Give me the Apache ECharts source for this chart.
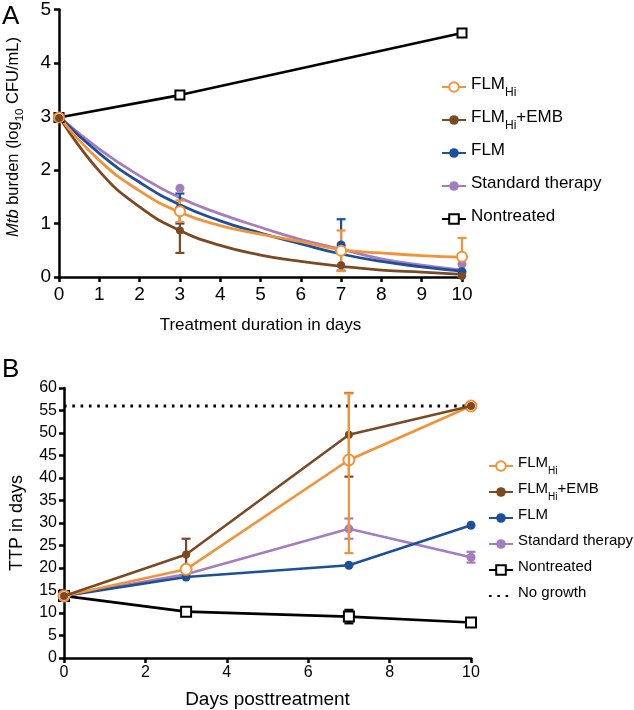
<!DOCTYPE html>
<html>
<head>
<meta charset="utf-8">
<title>Mtb burden / TTP</title>
<script src="https://cdn.jsdelivr.net/npm/echarts@6/dist/echarts.min.js"></script>
<style>
  html, body { margin: 0; padding: 0; background: #fff; }
  #chart { width: 634px; height: 710px; }
</style>
</head>
<body>
<div id="chart"></div>
<script>
// ---- panel A: Mtb burden (log10 CFU/mL) ----
var daysA = [0, 3, 7, 10];
var fitDays = [0, 1, 2, 3, 4, 5, 6, 7, 8, 9, 10];
// fitted decay curves
var fitFLMHi = [3.0, 2.18, 1.61, 1.21, 0.96, 0.80, 0.66, 0.51, 0.45, 0.40, 0.37];
var fitEMB   = [3.0, 1.98, 1.31, 0.87, 0.59, 0.41, 0.29, 0.20, 0.13, 0.09, 0.05];
var fitFLM   = [3.0, 2.31, 1.77, 1.35, 1.05, 0.82, 0.62, 0.43, 0.29, 0.19, 0.11];
var fitStd   = [3.0, 2.39, 1.89, 1.48, 1.18, 0.93, 0.70, 0.52, 0.34, 0.22, 0.13];
// measured points
var cfuFLMHi = [2.98, 1.23, 0.49, 0.38];
var cfuEMB   = [2.97, 0.87, 0.22, 0.02];
var cfuFLM   = [2.97, 1.28, 0.60, 0.10];
var cfuStd   = [2.97, 1.66, 0.55, 0.24];
var daysNonA = [0, 3, 10];
var cfuNon   = [2.98, 3.40, 4.56];
// error bars [day, low, high]
var errA_FLMHi = [[3, 1.03, 1.43], [7, 0.11, 0.87], [10, 0.02, 0.73]];
var errA_EMB   = [[3, 0.45, 1.29]];
var errA_FLM   = [[3, 1.00, 1.56], [7, 0.12, 1.08]];

// ---- panel B: TTP in days ----
var daysB = [0, 3, 7, 10];
var ttpFLMHi = [13.8, 19.7, 44.0, 56.0];
var ttpEMB   = [13.8, 23.0, 49.6, 56.0];
var ttpFLM   = [13.8, 18.0, 20.6, 29.5];
var ttpStd   = [13.8, 18.6, 28.7, 22.4];
var ttpNon   = [13.8, 10.3, 9.2, 7.9];
var noGrowth = 56;
var errB_FLMHi = [[7, 23.3, 58.8]];
var errB_EMB   = [[3, 19.5, 26.5], [7, 40.3, 58.9]];
var errB_Std   = [[7, 26.5, 31.0], [10, 21.2, 23.6]];
var errB_Non   = [[7, 7.7, 10.7]];

var C = {
  hi: '#f39237',
  emb: '#7b4a22',
  flm: '#1c4f9c',
  std: '#a47dbf',
  non: '#000'
};
var FONT = 'Liberation Sans, Arial, Helvetica, sans-serif';

function pairs(xs, ys) {
  return xs.map(function (x, i) { return [x, ys[i]]; });
}

// vertical error bar with caps
function errorBar(params, api) {
  var x = api.value(0);
  var lo = api.coord([x, api.value(1)]);
  var hi = api.coord([x, api.value(2)]);
  var w = 4.5;
  var st = { stroke: api.visual('color'), lineWidth: 2.2 };
  return {
    type: 'group',
    children: [
      { type: 'line', shape: { x1: lo[0], y1: lo[1], x2: hi[0], y2: hi[1] }, style: st },
      { type: 'line', shape: { x1: lo[0] - w, y1: lo[1], x2: lo[0] + w, y2: lo[1] }, style: st },
      { type: 'line', shape: { x1: hi[0] - w, y1: hi[1], x2: hi[0] + w, y2: hi[1] }, style: st }
    ]
  };
}

function errSeries(name, data, color, idx, z) {
  return {
    name: name, type: 'custom', xAxisIndex: idx, yAxisIndex: idx,
    data: data, encode: { x: 0, y: [1, 2] },
    itemStyle: { color: color }, renderItem: errorBar, z: z || 3, silent: true
  };
}

function fitSeries(name, ys, color, sym) {
  return {
    name: name, type: 'line', xAxisIndex: 0, yAxisIndex: 0,
    data: pairs(fitDays, ys), smooth: true,
    symbol: sym, showSymbol: false, symbolSize: 10,
    itemStyle: { color: color, borderWidth: 2.5 },
    lineStyle: { color: color, width: 2.8 }, z: 2, silent: true
  };
}

function dotSeries(name, xs, ys, color, sym, size, idx) {
  return {
    name: name, type: 'scatter', xAxisIndex: idx, yAxisIndex: idx,
    data: pairs(xs, ys), symbol: sym, symbolSize: size,
    itemStyle: { color: color, borderWidth: 2.5, opacity: 1 }, z: 4, silent: true
  };
}

function lineSeries(name, xs, ys, color, sym, size, idx, z) {
  return {
    name: name, type: 'line', xAxisIndex: idx, yAxisIndex: idx,
    data: pairs(xs, ys), symbol: sym, symbolSize: size, showSymbol: true,
    itemStyle: { color: color, borderWidth: 2.5 },
    lineStyle: { color: color, width: 2.6 }, z: z || 4, silent: true
  };
}

var axisCommon = {
  type: 'value',
  axisLine: { show: true, onZero: false, lineStyle: { color: '#000', width: 2.5 } },
  axisTick: { show: true, length: 5, lineStyle: { color: '#000', width: 2.5 } },
  splitLine: { show: false },
  axisLabel: { color: '#000', fontFamily: FONT }
};
function ax(extra) {
  return echarts.util.merge(echarts.util.clone(axisCommon), extra, true);
}

// every entry gets a (maybe blank) subscript token so all rows are equally tall
function legendFmt(name) {
  if (name.indexOf('_Hi') < 0) return '{n|' + name + '}{s| }';
  var p = name.split('_Hi');
  return '{n|' + p[0] + '}{s|Hi}' + (p[1] ? '{n|' + p[1] + '}' : '');
}
function legendRich(fs) {
  return {
    n: { fontSize: fs, fontFamily: FONT, color: '#000', lineHeight: 22, verticalAlign: 'top' },
    s: { fontSize: fs - 5, fontFamily: FONT, color: '#000', lineHeight: 12, verticalAlign: 'top', padding: [11, 0, 0, 0] }
  };
}

var myChart = echarts.init(document.getElementById('chart'), null, { renderer: 'canvas' });

var option = {
  backgroundColor: '#fff',
  animation: false,
  grid: [
    { left: 59, right: 172, top: 8, bottom: 433 },
    { left: 63, right: 163, top: 388, bottom: 51 }
  ],
  xAxis: [
    ax({ gridIndex: 0, min: 0, max: 10, interval: 1,
      name: 'Treatment duration in days', nameLocation: 'middle', nameGap: 40,
      nameTextStyle: { fontSize: 17, color: '#000', fontFamily: FONT },
      axisLabel: { fontSize: 19, margin: 8 } }),
    ax({ gridIndex: 1, min: 0, max: 10, interval: 2,
      name: 'Days posttreatment', nameLocation: 'middle', nameGap: 32,
      nameTextStyle: { fontSize: 19, color: '#000', fontFamily: FONT },
      axisLabel: { fontSize: 16, margin: 7 } })
  ],
  yAxis: [
    ax({ gridIndex: 0, min: 0, max: 5, interval: 1,
      axisLabel: { fontSize: 19, margin: 8 } }),
    ax({ gridIndex: 1, min: 0, max: 60, interval: 5,
      name: 'TTP in days', nameLocation: 'middle', nameGap: 38,
      nameTextStyle: { fontSize: 18, color: '#000', fontFamily: FONT },
      axisLabel: { fontSize: 16, margin: 7 } })
  ],
  legend: [
    {
      orient: 'vertical', left: 436, top: 71, itemWidth: 24, itemHeight: 12, itemGap: 10,
      data: ['FLM_Hi', 'FLM_Hi+EMB', 'FLM', 'Standard therapy', 'Nontreated'],
      formatter: legendFmt,
      textStyle: { fontSize: 17, fontFamily: FONT, color: '#000', rich: legendRich(17) },
      selectedMode: false
    },
    {
      orient: 'vertical', left: 483, top: 450, itemWidth: 24, itemHeight: 12, itemGap: 5,
      data: ['FLM_Hi ', 'FLM_Hi+EMB ', 'FLM ', 'Standard therapy ', 'Nontreated ',
        { name: 'No growth', itemStyle: { opacity: 0 } }],
      formatter: function (n) { return legendFmt(n.trim()); },
      textStyle: { fontSize: 15, fontFamily: FONT, color: '#000', rich: legendRich(15) },
      selectedMode: false
    }
  ],
  graphic: [
    { type: 'text', left: 2, top: 4, style: { text: 'A', fontSize: 26, fontFamily: FONT, fill: '#000' } },
    { type: 'text', left: 2, top: 357, style: { text: 'B', fontSize: 26, fontFamily: FONT, fill: '#000' } },
    {
      type: 'text', x: 14, y: 137, rotation: Math.PI / 2,
      style: {
        text: '{i|Mtb}{n| burden (log}{s|10}{n| CFU/mL)}',
        align: 'center', verticalAlign: 'middle',
        rich: {
          i: { fontSize: 16.5, fontFamily: FONT, fontStyle: 'italic', fill: '#000', lineHeight: 19, verticalAlign: 'top' },
          n: { fontSize: 16.5, fontFamily: FONT, fill: '#000', lineHeight: 19, verticalAlign: 'top' },
          s: { fontSize: 11.5, fontFamily: FONT, fill: '#000', lineHeight: 12, verticalAlign: 'top', padding: [9, 0, 0, 0] }
        }
      }
    }
  ],
  series: [
    // panel A
    lineSeries('Nontreated', daysNonA, cfuNon, C.non, 'emptyRect', 9, 0),
    fitSeries('Standard therapy', fitStd, C.std, 'circle'),
    fitSeries('FLM', fitFLM, C.flm, 'circle'),
    fitSeries('FLM_Hi+EMB', fitEMB, C.emb, 'circle'),
    fitSeries('FLM_Hi', fitFLMHi, C.hi, 'emptyCircle'),
    errSeries('FLM', errA_FLM, C.flm, 0),
    errSeries('FLM_Hi+EMB', errA_EMB, C.emb, 0),
    errSeries('FLM_Hi', errA_FLMHi, C.hi, 0),
    dotSeries('Standard therapy', daysA, cfuStd, C.std, 'circle', 9, 0),
    dotSeries('FLM', daysA, cfuFLM, C.flm, 'circle', 9, 0),
    dotSeries('FLM_Hi', daysA, cfuFLMHi, C.hi, 'emptyCircle', 10, 0),
    dotSeries('FLM_Hi+EMB', daysA, cfuEMB, C.emb, 'circle', 8, 0),

    // panel B (line series first so the legend picks their icons)
    {
      name: 'No growth', type: 'line', xAxisIndex: 1, yAxisIndex: 1,
      data: [[0, noGrowth], [10, noGrowth]], symbol: 'circle', showSymbol: false,
      itemStyle: { color: '#000' },
      lineStyle: { color: '#000', width: 3, type: [2.6, 5.7] }, z: 1, silent: true
    },
    lineSeries('Nontreated ', daysB, ttpNon, C.non, 'emptyRect', 10, 1, 4),
    lineSeries('Standard therapy ', daysB, ttpStd, C.std, 'circle', 9, 1, 4),
    lineSeries('FLM ', daysB, ttpFLM, C.flm, 'circle', 9, 1, 5),
    lineSeries('FLM_Hi ', daysB, ttpFLMHi, C.hi, 'emptyCircle', 11, 1, 6),
    lineSeries('FLM_Hi+EMB ', daysB, ttpEMB, C.emb, 'circle', 8, 1, 7),
    errSeries('Nontreated ', errB_Non, C.non, 1, 3),
    errSeries('Standard therapy ', errB_Std, C.std, 1, 3),
    errSeries('FLM_Hi+EMB ', errB_EMB, C.emb, 1, 6),
    errSeries('FLM_Hi ', errB_FLMHi, C.hi, 1, 8)
  ]
};

myChart.setOption(option);
</script>
</body>
</html>
